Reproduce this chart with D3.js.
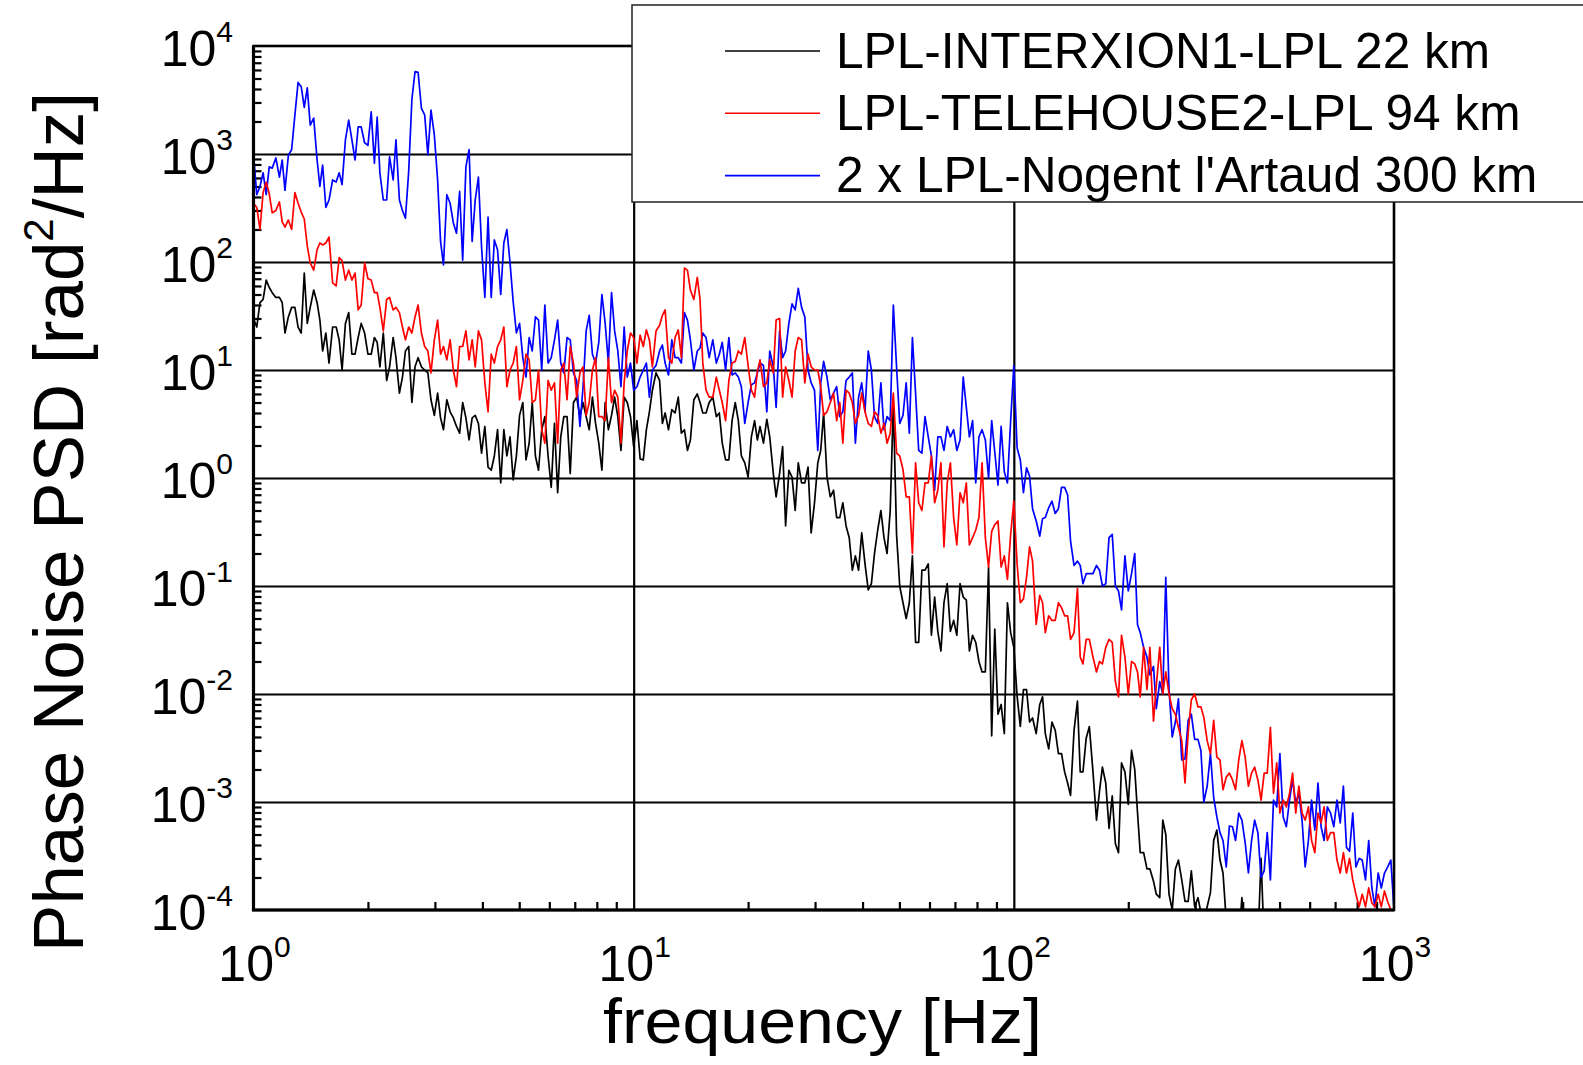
<!DOCTYPE html>
<html>
<head>
<meta charset="utf-8">
<script src="https://cdn.jsdelivr.net/npm/d3@7/dist/d3.min.js"></script>
<style>
  body { margin: 0; background: #fff; }
  svg { display: block; font-family: 'Liberation Sans', Arial, sans-serif; }
</style>
</head>
<body>
<div class="chart"></div>
<script>
// frequency bins [Hz], shared by the three measurements
const freq = [
  1.00,1.02,1.04,1.06,1.08,1.10,1.12,1.145,1.17,1.19,
  1.21,1.235,1.26,1.285,1.31,1.335,1.36,1.385,1.41,1.44,
  1.47,1.495,1.52,1.55,1.58,1.615,1.65,1.68,1.71,1.745,
  1.78,1.815,1.85,1.885,1.92,1.96,2.00,2.04,2.08,2.115,
  2.15,2.195,2.24,2.28,2.33,2.37,2.42,2.465,2.51,2.56,
  2.61,2.66,2.71,2.765,2.82,2.875,2.93,2.99,3.05,3.105,
  3.16,3.225,3.29,3.355,3.42,3.485,3.55,3.62,3.69,3.76,
  3.83,3.905,3.98,4.06,4.14,4.22,4.30,4.385,4.47,4.555,
  4.64,4.73,4.82,4.915,5.01,5.11,5.21,5.31,5.41,5.515,
  5.62,5.73,5.84,5.955,6.07,6.19,6.31,6.43,6.55,6.68,
  6.81,6.945,7.08,7.22,7.36,7.50,7.64,7.79,7.94,8.095,
  8.25,8.415,8.58,8.745,8.91,9.085,9.26,9.44,9.62,9.81,
  10.0,10.2,10.4,10.6,10.8,11.0,11.2,11.45,11.7,11.9,
  12.1,12.35,12.6,12.85,13.1,13.35,13.6,13.85,14.1,14.4,
  14.7,14.95,15.2,15.5,15.8,16.15,16.5,16.8,17.1,17.45,
  17.8,18.15,18.5,18.85,19.2,19.6,20.0,20.4,20.8,21.15,
  21.5,21.95,22.4,22.8,23.3,23.7,24.2,24.65,25.1,25.6,
  26.1,26.6,27.1,27.65,28.2,28.75,29.3,29.9,30.5,31.05,
  31.6,32.25,32.9,33.55,34.2,34.85,35.5,36.2,36.9,37.6,
  38.3,39.05,39.8,40.6,41.4,42.2,43.0,43.85,44.7,45.55,
  46.4,47.3,48.2,49.15,50.1,51.1,52.1,53.1,54.1,55.15,
  56.2,57.3,58.4,59.55,60.7,61.9,63.1,64.3,65.5,66.8,
  68.1,69.45,70.8,72.2,73.6,75.0,76.4,77.9,79.4,80.95,
  82.5,84.15,85.8,87.45,89.1,90.85,92.6,94.4,96.2,98.1,
  100,102,104,106,108,110,112,114.5,117,119,
  121,123.5,126,128.5,131,133.5,136,138.5,141,144,
  147,149.5,152,155,158,161.5,165,168,171,174.5,
  178,181.5,185,188.5,192,196,200,204,208,211.5,
  215,219.5,224,228,233,237,242,246.5,251,256,
  261,266,271,276.5,282,287.5,293,299,305,310.5,
  316,322.5,329,335.5,342,348.5,355,362,369,376,
  383,390.5,398,406,414,422,430,438.5,447,455.5,
  464,473,482,491.5,501,511,521,531,541,551.5,
  562,573,584,595.5,607,619,631,643,655,668,
  681,694.5,708,722,736,750,764,779,794,809.5,
  825,841.5,858,874.5,891,908.5,926,944,962,981,
  1000
];

// phase noise PSD [rad^2/Hz]
const psdInterxion = [
  30,25,42,45,68,58,52,47,47,42,
  22,31,38,38,25,22,79,27,38,55,
  42,29,15,22,11.6,25,25,19,10,27,
  34,14,14,20,27,22,14,14,20,18,
  10.7,22,8,10.7,20,13,6.1,8.6,15,16.5,
  5,10.7,13,10.7,10,9.4,5.3,3.8,6.1,3.6,
  2.8,5.3,4.1,3.6,3.0,2.6,5,3.6,2.25,3.6,
  3.8,3.2,1.7,3.0,1.26,1.18,1.6,2.8,0.9,2.8,
  1.6,2.4,0.96,1.6,3.8,5,1.47,2.1,5,1.6,
  1.18,2.8,3.7,1.6,0.82,3.2,0.73,2.4,3.7,3.7,
  1.1,5,5.6,3.7,5,3.7,2.8,5.6,3.2,2.1,
  1.18,5,2.8,3.8,5.6,3.7,1.8,5.6,5,3.7,
  1.95,3.4,1.5,1.47,2.8,4.1,6.5,9.4,8,3.2,
  4,2.8,4.3,4,5.6,2.6,2.8,1.8,2.25,5.3,
  6,5,4,4,5,5.6,3.7,4,2.1,1.47,
  1.47,3.4,5,3.4,1.6,1.38,1.02,2.4,3.4,2.25,
  3.0,2.1,3.5,2.4,1.1,0.67,1.1,1.95,0.36,1.18,
  1.02,0.5,1.38,0.9,0.9,1.26,0.31,0.59,1.38,1.8,
  4,1.02,0.67,0.77,0.43,0.43,0.59,0.36,0.28,0.14,
  0.19,0.14,0.31,0.16,0.092,0.105,0.2,0.33,0.5,0.28,
  0.2,0.5,5,0.3,0.1,0.07,0.05,0.07,0.19,0.03,
  0.03,0.14,0.14,0.16,0.035,0.079,0.038,0.025,0.07,0.105,
  0.038,0.048,0.035,0.105,0.079,0.074,0.025,0.035,0.03,0.02,
  0.016,0.016,0.15,0.0041,0.04,0.0065,0.008,0.0043,0.07,0.037,
  0.027,0.0096,0.005,0.011,0.011,0.0055,0.006,0.0043,0.008,0.0094,
  0.0043,0.0031,0.0055,0.0046,0.0028,0.0028,0.0019,0.0015,0.00115,0.0046,
  0.0086,0.0019,0.0019,0.0039,0.005,0.0019,0.00068,0.00126,0.0021,0.0015,
  0.00057,0.00114,0.00041,0.00034,0.0023,0.0019,0.00095,0.003,0.002,0.0008,
  0.00034,0.00034,0.00024,0.00024,0.000185,0.00014,0.00013,0.00068,0.0005,0.00014,
  0.0001,0.00024,0.00029,0.00019,0.00012,0.00012,0.00023,0.000107,0.00013,0.000095,
  0.00008,0.000107,0.000145,0.00044,0.00055,0.00029,0.00022,0.00008,0.00005,0.00005,
  0.00005,0.00005,0.00013,0.00005,0.00005,0.00005,0.00005,0.00005,0.0003,0.00005,
  0.00005
];

const psdTelehouse = [
  350,320,200,440,550,430,285,300,360,235,
  210,245,200,440,350,290,250,140,98,84,
  130,150,144,150,170,64,60,110,103,68,
  84,68,79,36,40,98,70,68,52,52,
  38,23,45,47,36,38,34,25,19,25,
  22,31,40,22,16.5,15,9.4,19,29,14,
  16.5,12.4,19,10,7.0,16.5,16.5,23,12.4,19,
  10.7,23,19,7.6,4.1,14,11.6,16.5,19,25,
  7,10,11.6,16.5,5.3,8,14,12.4,5,5.3,
  10,2.8,2.1,8,6.5,7.6,2.1,10,11.6,5.3,
  16.5,11.6,5.6,9.4,10.7,3.8,5,10,13,3.7,
  3.7,3.4,13,5,6.5,5.6,2.1,7.6,15,22,
  20,11.6,21,16.5,23.5,19,10.7,23,26,32,
  36,13,11.6,20,23.5,13,88,84,55,45,
  72,45,11.6,6.5,5.6,5.6,8.6,6.5,5,3.4,
  8,11.6,12,15,14,20,11,6.5,5.6,9.6,
  12.4,7,7.6,12.4,9.4,29,30,5.6,10.7,8,
  5.6,15,20,19,7.6,14,10.7,10,10,7,
  3.8,4.1,5,6.1,3.4,5,2.1,6.5,6.1,5,
  3.2,3.8,6.1,4.1,3.2,3.0,4.1,3.8,2.6,3.2,
  2.1,2.6,6.1,1.7,1.6,1.2,0.67,0.67,0.2,1.38,
  0.59,0.5,0.9,0.9,1.6,0.59,0.77,1.38,0.23,0.9,
  1.38,0.43,0.24,0.73,0.59,0.9,0.24,0.28,0.33,0.43,
  1.38,0.28,0.15,0.32,0.37,0.4,0.15,0.19,0.115,0.3,
  0.61,0.16,0.07,0.076,0.12,0.23,0.17,0.044,0.082,0.07,
  0.037,0.053,0.048,0.048,0.07,0.063,0.053,0.053,0.032,0.037,
  0.095,0.022,0.019,0.032,0.032,0.022,0.016,0.02,0.019,0.027,
  0.032,0.03,0.013,0.0094,0.035,0.022,0.01,0.02,0.019,0.016,
  0.0094,0.027,0.011,0.027,0.0056,0.012,0.027,0.01,0.016,0.01,
  0.0073,0.0065,0.0049,0.0037,0.0015,0.0044,0.0088,0.01,0.0076,0.0076,
  0.0061,0.0037,0.0028,0.0057,0.0026,0.00245,0.0013,0.0017,0.00185,0.0016,
  0.0013,0.00245,0.0037,0.0026,0.0014,0.00185,0.0021,0.0016,0.00104,0.00185,
  0.00185,0.0049,0.0012,0.0023,0.00079,0.00104,0.0009,0.0012,0.00185,0.00079,
  0.0014,0.00079,0.00068,0.0009,0.00044,0.00034,0.00079,0.00064,0.0009,0.00044,
  0.00052,0.00052,0.00029,0.00022,0.00034,0.00022,0.0003,0.00019,0.00014,0.000107,
  0.00014,0.000107,0.00016,0.000116,0.000107,0.00014,0.000107,0.00015,0.00012,0.0001,
  0.0001
];

const psdNogent = [
  1000,420,500,670,420,760,740,920,610,880,
  460,970,1100,2300,4600,4200,2700,4100,1850,2150,
  880,500,790,320,375,575,550,670,520,1350,
  2060,1350,880,1780,1780,1270,1200,2450,820,2200,
  670,375,375,940,575,1350,375,300,255,690,
  3200,5800,5700,2650,2300,980,2550,1500,575,155,
  94,420,350,230,185,450,104,760,1100,155,
  375,610,138,47,260,47,160,130,50,150,
  200,98,43,22,27,13,8.6,20,15,31,
  29,10,40,11.6,13,19,29,11.6,9.4,20,
  19,9.4,8,3.0,7,23,32,14,11.6,18,
  50,27,11.6,52,23,15,7.0,25,8.6,11.6,
  6.5,7,8.6,10,11.6,5.6,10,11,15,17,
  11.6,9,19,13,13,11.6,34,29,19,10,
  15,16,22,20,13,19,11.6,14,18,10,
  20,9,9.4,8.6,7,3.2,5,7.3,7.6,9.4,
  11.6,11,4.1,15,10.7,4.5,23,13,15,27,
  41,36,57,38,31,10,7.6,6.5,1.8,7.6,
  12,8.6,5.3,6.1,7,3.7,4.1,8,8.6,9.4,
  2.1,5.6,7.6,4.1,15,10,3.7,3.2,7.6,2.8,
  3.7,3.4,40,10.7,3.2,3.8,7.6,2.6,20,6.1,
  1.8,1.7,3.7,2.4,1.6,0.77,2.4,2.4,1.8,3.0,
  2.4,2.8,1.8,2.25,8.6,4.5,2.4,3.4,0.9,2.4,
  2.8,2.25,1.0,3.4,1.74,0.86,3.0,1.14,0.9,3.4,
  11,1.9,1.47,0.73,1.24,1.04,0.52,0.4,0.29,0.42,
  0.43,0.53,0.61,0.47,0.52,0.82,0.82,0.7,0.26,0.155,
  0.17,0.155,0.105,0.13,0.13,0.13,0.155,0.14,0.1,0.105,
  0.28,0.3,0.1,0.09,0.06,0.19,0.09,0.13,0.2,0.044,
  0.037,0.027,0.022,0.015,0.018,0.0073,0.013,0.01,0.12,0.011,
  0.004,0.0055,0.009,2.45e-3,2.5e-3,5.7e-3,6.5e-3,3.8e-3,3.8e-3,3e-3,
  1e-3,1.4e-3,2.8e-3,1.1e-3,7.3e-4,5.2e-4,4.4e-4,2.5e-4,6e-4,5.9e-4,
  4.4e-4,7.9e-4,6.8e-4,4.2e-4,2.2e-4,4.4e-4,6.8e-4,5.2e-4,2e-4,2.3e-4,
  5.2e-4,1.9e-4,1.04e-3,9e-4,2.8e-3,7.3e-4,5.9e-4,1.04e-3,1.6e-3,9.8e-4,
  1.2e-3,6.8e-4,2.5e-4,4.4e-4,1.04e-3,5.5e-4,1.5e-3,5.9e-4,4.4e-4,9e-4,
  7.9e-4,5.9e-4,1.04e-3,6.4e-4,1.4e-3,3.8e-4,3.5e-4,7.9e-4,2.5e-4,3e-4,
  2.9e-4,1.9e-4,4.4e-4,1.6e-4,1.07e-4,2.2e-4,1.6e-4,2.2e-4,2.5e-4,2.9e-4,
  1e-4
];

const seriesLabels = ['LPL-INTERXION1-LPL 22 km', 'LPL-TELEHOUSE2-LPL 94 km', "2 x LPL-Nogent l'Artaud 300 km"];
const xTickExps = [0, 1, 2, 3];
const yTickExps = [-4, -3, -2, -1, 0, 1, 2, 3, 4];

class PsdChart {

    constructor(series, options) {
        this.series = series
        this.fullWidth = options.width || 1583
        this.fullHeight = options.height || 1065
        this.margin = options.margin
        this.width = this.fullWidth - this.margin.left - this.margin.right
        this.height = this.fullHeight - this.margin.top - this.margin.bottom
        this.lineWidth = 1.7
    }

    render() {
        this.svg = d3.select('.chart').append('svg')
            .attr('width', this.fullWidth)
            .attr('height', this.fullHeight)
        this.svg.append('rect').attr('width', this.fullWidth).attr('height', this.fullHeight).attr('fill', '#fff')
        this.canvas = this.svg.append('g')
            .attr('transform', `translate(${this.margin.left}, ${this.margin.top})`)
        this.prepareScales()
        this.createGrid()
        this.createCurves()
        this.createFrame()
        this.createTickLabels()
        this.createTitles()
        this.createLegend()
    }

    prepareScales() {
        this.x = d3.scaleLog().domain([1, 1000]).range([0, this.width])
        this.y = d3.scaleLog().domain([1e-4, 1e4]).range([this.height, 0])
    }

    minorTicks(lo, hi) {
        let ticks = []
        for (let e = lo; e < hi; e++) {
            for (let m = 2; m <= 9; m++) ticks.push(m * Math.pow(10, e))
        }
        return ticks
    }

    createGrid() {
        let gx = this.canvas.append('g')
            .attr('transform', `translate(0, ${this.height})`)
            .call(d3.axisBottom(this.x).tickValues([10, 100]).tickSize(-this.height).tickFormat(''))
        let gy = this.canvas.append('g')
            .call(d3.axisLeft(this.y).tickValues([1e-3, 1e-2, 1e-1, 1, 10, 100, 1000]).tickSize(-this.width).tickFormat(''))
        let mx = this.canvas.append('g')
            .attr('transform', `translate(0, ${this.height})`)
            .call(d3.axisBottom(this.x).tickValues(this.minorTicks(0, 3)).tickSize(-8).tickFormat(''))
        let my = this.canvas.append('g')
            .call(d3.axisLeft(this.y).tickValues(this.minorTicks(-4, 4)).tickSize(-8).tickFormat(''))
        for (let g of [gx, gy, mx, my]) {
            g.select('.domain').remove()
            g.selectAll('.tick line').attr('stroke', '#000').attr('stroke-width', 2.2)
        }
    }

    createCurves() {
        this.svg.append('defs').append('clipPath').attr('id', 'plot-clip')
            .append('rect').attr('width', this.width).attr('height', this.height)
        let line = d3.line()
            .x((d, i) => this.x(freq[i]))
            .y(d => this.y(d))
        // black first, blue next, red on top
        this.canvas.append('g')
            .attr('clip-path', 'url(#plot-clip)')
            .selectAll('path')
            .data([this.series[0], this.series[2], this.series[1]])
            .enter().append('path')
            .attr('d', s => line(s.values))
            .attr('fill', 'none')
            .attr('stroke', s => s.colour)
            .attr('stroke-width', this.lineWidth)
            .attr('stroke-linejoin', 'round')
    }

    createFrame() {
        this.canvas.append('rect')
            .attr('width', this.width)
            .attr('height', this.height)
            .attr('fill', 'none')
            .attr('stroke', '#000')
            .attr('stroke-width', 2.6)
        this.canvas.append('path')
            .attr('d', `M0,0V${this.height}H${this.width}`)
            .attr('fill', 'none')
            .attr('stroke', '#000')
            .attr('stroke-width', 3.2)
    }

    powerLabel(g, x, y, exp, anchor) {
        let t = g.append('text')
            .attr('x', x)
            .attr('y', y)
            .attr('text-anchor', anchor)
            .attr('font-size', 50)
            .attr('fill', '#000')
        t.append('tspan').text('10')
        t.append('tspan').attr('dy', -24).attr('font-size', 30).text(exp)
    }

    createTickLabels() {
        let g = this.canvas.append('g')
        xTickExps.forEach(e => this.powerLabel(g, this.x(Math.pow(10, e)) + 1, this.height + 71, e, 'middle'))
        yTickExps.forEach(e => this.powerLabel(g, -20.5, this.y(Math.pow(10, e)) + 20, e, 'end'))
    }

    createTitles() {
        this.svg.append('text')
            .attr('x', 822.5)
            .attr('y', 1043)
            .attr('text-anchor', 'middle')
            .attr('font-size', 63)
            .attr('textLength', 439)
            .attr('lengthAdjust', 'spacingAndGlyphs')
            .text('frequency [Hz]')
        let t = this.svg.append('text')
            .attr('transform', 'translate(83, 522) rotate(-90)')
            .attr('text-anchor', 'middle')
            .attr('font-size', 71)
        t.append('tspan').text('Phase Noise PSD [rad')
        t.append('tspan').attr('dy', -30).attr('font-size', 42).text('2')
        t.append('tspan').attr('dy', 30).text('/Hz]')
    }

    createLegend() {
        let g = this.svg.append('g')
        g.append('rect')
            .attr('x', 632).attr('y', 5)
            .attr('width', 1000).attr('height', 197)
            .attr('fill', '#fff')
            .attr('stroke', '#222')
            .attr('stroke-width', 1.5)
        let rows = g.selectAll('.legend-row')
            .data(this.series)
            .enter().append('g')
            .attr('class', 'legend-row')
            .attr('transform', (d, i) => `translate(0, ${51 + i * 62.3})`)
        rows.append('line')
            .attr('x1', 725).attr('x2', 820)
            .attr('stroke', d => d.colour)
            .attr('stroke-width', 1.6)
        rows.append('text')
            .attr('x', 836)
            .attr('y', 16.5)
            .attr('font-size', 49.6)
            .text(d => d.label)
    }
}

const chart = new PsdChart([
    { label: seriesLabels[0], values: psdInterxion, colour: '#000000' },
    { label: seriesLabels[1], values: psdTelehouse, colour: '#ff0000' },
    { label: seriesLabels[2], values: psdNogent, colour: '#0000ff' }
], {
    width: 1583,
    height: 1065,
    margin: { top: 46, right: 189, bottom: 155, left: 253.5 }
})
chart.render()
</script>
</body>
</html>
